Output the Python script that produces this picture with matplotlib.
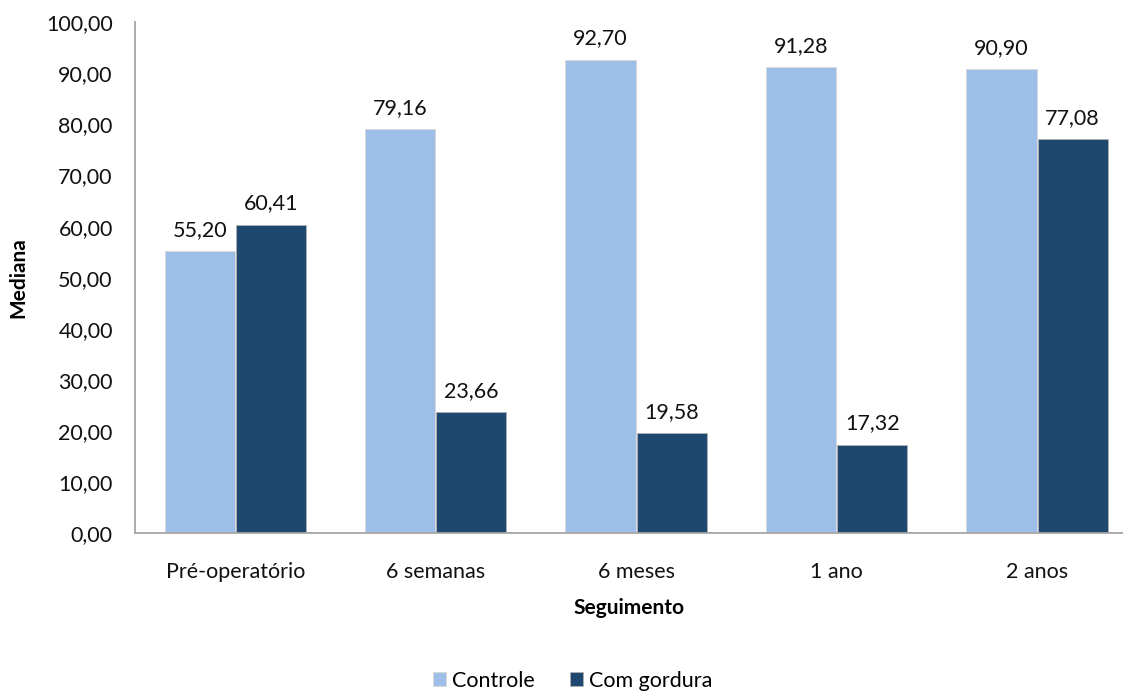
import matplotlib
matplotlib.use("Agg")
import matplotlib.pyplot as plt
import numpy as np

categorias = ["Pré-operatório", "6 semanas", "6 meses", "1 ano", "2 anos"]
controle = [55.20, 79.16, 92.70, 91.28, 90.90]
com_gordura = [60.41, 23.66, 19.58, 17.32, 77.08]
series = ["Controle", "Com gordura"]
yticks = np.arange(0, 101, 10)

cor_clara = "#9DBFE7"
cor_escura = "#1F4871"

plt.rcParams['font.family'] = ['Lato', 'DejaVu Sans']

fig = plt.figure(figsize=(11.23, 6.96), dpi=100)
ax = fig.add_axes([0.1202, 0.234, 0.88, 0.734])

x = np.arange(len(categorias))
w = 0.35
off = 0.1775
b1 = ax.bar(x - off, controle, w, color=cor_clara, label=series[0],
            edgecolor="#d8d8d8", linewidth=0.6)
b2 = ax.bar(x + off, com_gordura, w, color=cor_escura, label=series[1],
            edgecolor="#b0b0b0", linewidth=0.6)

def fmt(v):
    return f"{v:.2f}".replace(".", ",")

fs = 15.5
for bars, vals in [(b1, controle), (b2, com_gordura)]:
    for b, v in zip(bars, vals):
        ax.annotate(fmt(v), (b.get_x() + b.get_width() / 2, v),
                    xytext=(0, 8), textcoords="offset points",
                    ha="center", va="bottom", fontsize=fs, color="#111111")

ax.set_ylim(0, 100)
ax.set_xlim(-0.5, 4.5 - 14 / 200.4)
ax.set_yticks(yticks)
ax.set_yticklabels([fmt(v) for v in yticks], fontsize=fs, color="#111111")
ax.set_xticks(x)
ax.set_xticklabels(categorias, fontsize=fs, color="#111111")
ax.tick_params(axis="both", length=0)
ax.tick_params(axis="x", pad=21)
ax.tick_params(axis="y", pad=16)

for s in ["top", "right"]:
    ax.spines[s].set_visible(False)
for s in ["left", "bottom"]:
    ax.spines[s].set_color("#a6a6a6")
    ax.spines[s].set_linewidth(1.3)

ax.set_ylabel("Mediana", fontsize=15, fontweight="bold", labelpad=13)
ax.set_xlabel("Seguimento", fontsize=15, fontweight="bold", labelpad=11)

fig.legend(handles=[b1, b2], labels=series, loc="center", ncol=2,
           bbox_to_anchor=(0.51, 0.022), frameon=False, fontsize=fs,
           handlelength=0.6, handleheight=0.6, handletextpad=0.3,
           columnspacing=1.6)

fig.savefig("out.png", dpi=100)
